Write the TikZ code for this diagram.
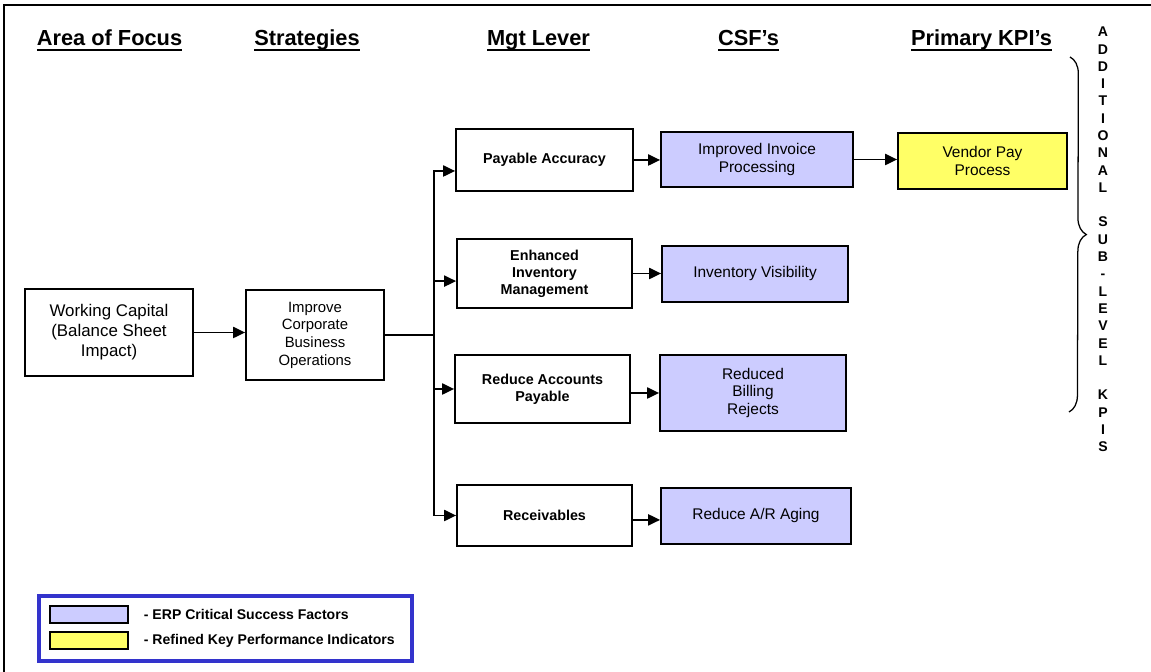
\documentclass[tikz,border=0pt]{standalone}
\usepackage{fontspec}
\setmainfont{Liberation Sans}
\usepackage{xcolor}
\usepackage{tikz}
\usetikzlibrary{positioning,arrows.meta,decorations.pathreplacing}

\definecolor{csfblue}{HTML}{CCCCFF}
\definecolor{kpiyellow}{HTML}{FFFF66}
\definecolor{keyblue}{HTML}{3333CC}

\newcommand{\headul}[1]{\setbox0=\hbox{#1}\rlap{\rule[-3.6pt]{\wd0}{1.3pt}}\box0}

\tikzset{
    heading/.style={anchor=base, inner sep=0pt, font=\bfseries\fontsize{15.5}{18}\selectfont},
    plainbox/.style={draw, line width=1.3pt, align=center, inner sep=0pt},
    leverbox/.style={plainbox, font=\bfseries\fontsize{10.2}{12.2}\selectfont},
    csfbox/.style={plainbox, fill=csfblue, font=\fontsize{11}{12.8}\selectfont},
    kpibox/.style={plainbox, fill=kpiyellow, font=\fontsize{11}{12.2}\selectfont},
    link/.style={line width=1.1pt},
    linkarrow/.style={line width=1.1pt, -{Triangle[length=0.3cm, width=0.28cm]}},
    keybox/.style={draw, line width=0.9pt, minimum width=1.95cm, minimum height=0.425cm, inner sep=0pt},
    keytext/.style={anchor=west, inner sep=0pt, font=\bfseries\fontsize{10}{12}\selectfont},
    sidetext/.style={align=center, inner sep=0pt, font=\bfseries\fontsize{10}{12.3}\selectfont}
}

\begin{document}
\begin{tikzpicture}
    \useasboundingbox (0, 0) rectangle (28.775, 16.8);
    \clip (0, 0) rectangle (28.775, 16.8);
    \fill [white] (0, 0) rectangle (28.775, 16.8);
    \draw [line width=1.5pt] (0.1, -1) rectangle (30, 16.675);

    \node [heading] (hfocus) at (2.7375, 15.65) {\headul{Area of Focus}};
    \node [heading] (hstrat) at (7.675, 15.65) {\headul{Strategies}};
    \node [heading] (hlever) at (13.4625, 15.65) {\headul{Mgt Lever}};
    \node [heading] (hcsf) at (18.7125, 15.65) {\headul{CSF’s}};
    \node [heading] (hkpi) at (24.5375, 15.65) {\headul{Primary KPI’s}};

    \node [plainbox, minimum width=4.2cm, minimum height=2.175cm, font=\fontsize{12}{14.2}\selectfont] (wc) at (2.725, 8.4875) {Working Capital\\(Balance Sheet\\Impact)};
    \node [plainbox, minimum width=3.45cm, minimum height=2.25cm, font=\fontsize{10.6}{12.6}\selectfont] (imp) at (7.875, 8.425) {Improve\\Corporate\\Business\\Operations};

    \node [leverbox, minimum width=4.425cm, minimum height=1.55cm] (pay) at (13.6125, 12.8) {Payable Accuracy};
    \node [leverbox, minimum width=4.375cm, minimum height=1.725cm] (enh) at (13.6125, 9.9625) {Enhanced\\Inventory\\Management};
    \node [leverbox, minimum width=4.375cm, minimum height=1.7cm] (rap) at (13.5625, 7.075) {Reduce Accounts\\Payable};
    \node [leverbox, minimum width=4.375cm, minimum height=1.525cm] (rec) at (13.6125, 3.9125) {Receivables};

    \node [csfbox, minimum width=4.8cm, minimum height=1.375cm] (inv) at (18.925, 12.8125) {Improved Invoice\\Processing};
    \node [csfbox, minimum width=4.65cm, minimum height=1.4cm] (vis) at (18.875, 9.95) {Inventory Visibility};
    \node [csfbox, minimum width=4.65cm, minimum height=1.9cm] (bil) at (18.825, 6.975) {Reduced\\Billing\\Rejects};
    \node [csfbox, minimum width=4.75cm, minimum height=1.4cm] (age) at (18.9, 3.9) {Reduce A/R Aging};

    \node [kpibox, minimum width=4.225cm, minimum height=1.4cm] (ven) at (24.5625, 12.775) {Vendor Pay\\Process};

    \coordinate (T) at (10.85, 8.425);
    \draw [linkarrow] (wc.east) -- (wc.east -| imp.west);
    \draw [link] (imp.east) -- (T);
    \draw [linkarrow] (T) |- ([yshift=-0.275cm]pay.west);
    \draw [linkarrow] (T) |- ([yshift=-0.19cm]enh.west);
    \draw [linkarrow] (T) |- (rap.west);
    \draw [linkarrow] (T) |- (rec.west);

    \draw [linkarrow] (pay.east) -- (pay.east -| inv.west);
    \draw [linkarrow] (enh.east) -- (enh.east -| vis.west);
    \draw [linkarrow] ([yshift=-0.1cm]rap.east) -- ([yshift=-0.1cm]rap.east -| bil.west);
    \draw [linkarrow] ([yshift=-0.11cm]rec.east) -- ([yshift=-0.11cm]rec.east -| age.west);
    \draw [linkarrow] (inv.east) -- (inv.east -| ven.west);

    \coordinate (bracetop) at (26.75, 15.375);
    \coordinate (bracebot) at (26.725, 6.5);
    \draw [decorate, decoration={brace, amplitude=0.42cm}, line width=0.9pt] (bracetop) -- (bracebot);
    \node [sidetext] (addl) at (27.575, 10.8125) {A\\D\\D\\I\\T\\I\\O\\N\\A\\L\\ \\S\\U\\B\\-\\L\\E\\V\\E\\L\\ \\K\\P\\I\\S};

    \draw [keyblue, line width=2.2pt] (0.975, 0.275) rectangle (10.3, 1.9);
    \node [keybox, fill=csfblue] (keycsf) at (2.225, 1.4375) {};
    \node [keybox, fill=kpiyellow] (keykpi) at (2.225, 0.7875) {};
    \node [keytext, right=0.375cm of keycsf] (keycsftext) {- ERP Critical Success Factors};
    \node [keytext, right=0.375cm of keykpi] (keykpitext) {- Refined Key Performance Indicators};
\end{tikzpicture}
\end{document}
